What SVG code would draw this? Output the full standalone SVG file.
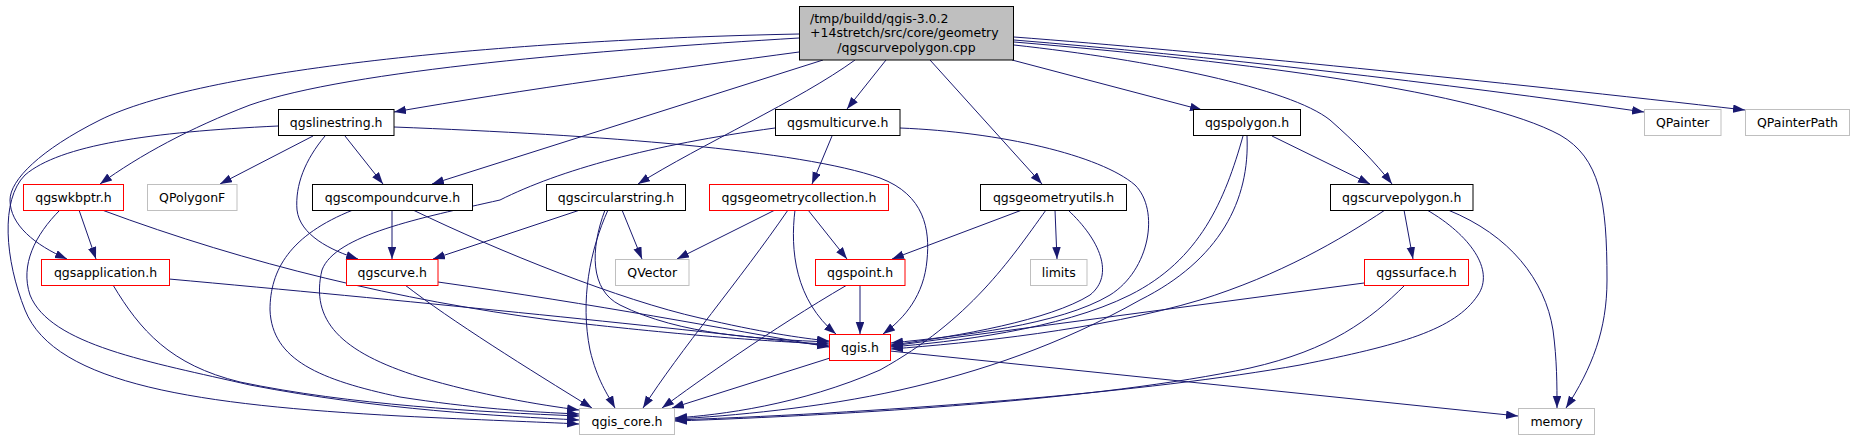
<svg xmlns="http://www.w3.org/2000/svg" width="1855" height="440" viewBox="0 0 1855 440">
<style>
rect{fill:#fff;stroke-width:1}
.k rect{stroke:#000}
.r rect{stroke:#ff0000}
.g rect{stroke:#bfbfbf}
.m rect{fill:#bfbfbf;stroke:#000}
text{font-family:"DejaVu Sans","Liberation Sans",sans-serif;font-size:12.5px;fill:#000;text-anchor:middle}
.e path{fill:none;stroke:#191970;stroke-width:1;marker-end:url(#a)}
</style>
<defs>
<marker id="a" markerUnits="userSpaceOnUse" markerWidth="12" markerHeight="9" refX="12" refY="4.25" orient="auto">
<path d="M0,0 L12,4.25 L0,8.5 z" fill="#191970"/>
</marker>
</defs>
<rect x="0" y="0" width="1855" height="440" style="fill:#fff;stroke:none"/>
<g class="e" id="edges">
<path d="M799,52 C680,68 520,90 394,112"/>
<path d="M886,60 L847,109"/>
<path d="M1012,60 L1202,110"/>
<path d="M1014,40 C1200,55 1450,84 1644,112"/>
<path d="M1014,37 C1200,51 1500,82 1745,110"/>
<path d="M1014,42 C1250,62 1480,92 1560,135 C1600,158 1607,200 1607,280 C1607,330 1592,368 1566,408"/>
<path d="M1014,45 C1150,60 1290,88 1330,120 C1355,142 1375,162 1392,184"/>
<path d="M930,60 L1042,184"/>
<path d="M855,60 C800,100 700,145 638,184"/>
<path d="M823,60 L432,184"/>
<path d="M799,38 C600,50 350,70 250,105 C190,128 140,155 100,184"/>
<path d="M799,34 C500,40 200,70 100,120 C40,150 10,180 10,200 C10,225 35,245 67,259"/>
<path d="M313,136 L220,184"/>
<path d="M345,136 L383,184"/>
<path d="M325,136 C305,160 295,185 297,210 C300,235 330,250 358,259"/>
<path d="M394,127 C600,135 800,150 880,178 C925,195 930,230 927,260 C924,295 905,318 883,334"/>
<path d="M278,126 C150,132 60,145 25,175 C0,200 5,260 25,310 C55,385 200,405 400,416 C480,420 540,422 579,424"/>
<path d="M79,210 L96,259"/>
<path d="M102,210 C250,265 400,300 550,320 C680,335 760,341 829,344"/>
<path d="M60,210 C35,235 20,265 30,295 C50,345 150,362 250,385 C380,410 500,416 579,420"/>
<path d="M169,279 C400,300 650,325 829,346"/>
<path d="M113,285 C140,330 170,365 240,382 C350,405 480,412 579,416"/>
<path d="M392,210 L392,259"/>
<path d="M413,210 C500,252 620,300 700,318 C760,332 800,338 829,341"/>
<path d="M353,210 C290,235 270,270 270,310 C272,360 320,380 400,397 C470,408 530,412 579,414"/>
<path d="M438,282 C600,305 720,328 829,347"/>
<path d="M405,285 C450,320 530,370 592,408"/>
<path d="M832,136 L812,184"/>
<path d="M900,128 C1000,132 1100,155 1135,185 C1160,210 1150,270 1110,295 C1060,325 960,336 891,343"/>
<path d="M775,128 C650,145 560,170 500,200 C420,218 335,235 322,270 C310,320 340,352 420,377 C480,395 540,405 579,410"/>
<path d="M580,210 L433,259"/>
<path d="M622,210 L642,259"/>
<path d="M605,210 C590,250 590,290 620,305 C680,335 760,339 829,342"/>
<path d="M608,210 C590,250 580,300 590,350 C597,380 608,395 615,408"/>
<path d="M775,210 L677,259"/>
<path d="M808,210 L847,259"/>
<path d="M795,210 C790,250 795,300 836,334"/>
<path d="M788,210 C740,280 680,350 643,408"/>
<path d="M860,285 L860,334"/>
<path d="M847,285 C770,330 700,380 662,408"/>
<path d="M830,358 L672,408"/>
<path d="M890,351 L1518,416"/>
<path d="M1022,210 L892,259"/>
<path d="M1055,210 L1057,259"/>
<path d="M1068,210 C1100,240 1115,275 1090,295 C1050,320 960,336 891,345"/>
<path d="M1046,210 C1010,260 970,320 880,370 C800,405 720,415 675,418"/>
<path d="M1272,136 L1370,184"/>
<path d="M1243,136 C1225,200 1200,260 1130,295 C1060,330 950,342 891,347"/>
<path d="M1247,136 C1250,200 1220,260 1140,300 C1060,345 980,372 900,390 C820,408 730,416 675,419"/>
<path d="M1404,210 L1413,259"/>
<path d="M1385,210 C1340,240 1280,275 1200,300 C1100,330 970,343 891,349"/>
<path d="M1427,210 C1470,235 1495,270 1478,295 C1455,330 1400,345 1300,365 C1150,392 900,412 675,420"/>
<path d="M1448,210 C1510,235 1545,280 1553,330 C1557,360 1557,385 1557,408"/>
<path d="M1364,283 L891,346"/>
<path d="M1405,285 C1370,320 1330,350 1250,368 C1100,400 850,415 675,421"/>
</g>
<g id="main" class="m"><rect x="799.5" y="6.5" width="214" height="53.5"/>
<text x="810" y="22.5" style="text-anchor:start">/tmp/buildd/qgis-3.0.2</text>
<text x="810" y="37" style="text-anchor:start">+14stretch/src/core/geometry</text>
<text x="906.5" y="51.5">/qgscurvepolygon.cpp</text></g>
<g id="n_qgslinestring" class="k"><rect x="278.5" y="109.5" width="115.5" height="26"/><text x="336.2" y="127">qgslinestring.h</text></g>
<g id="n_qgsmulticurve" class="k"><rect x="775.5" y="109.5" width="124.5" height="26"/><text x="837.7" y="127">qgsmulticurve.h</text></g>
<g id="n_qgspolygon" class="k"><rect x="1193.5" y="109.5" width="107" height="26"/><text x="1247" y="127">qgspolygon.h</text></g>
<g id="n_QPainter" class="g"><rect x="1644.5" y="109.5" width="76.5" height="26"/><text x="1682.7" y="127">QPainter</text></g>
<g id="n_QPainterPath" class="g"><rect x="1745.5" y="109.5" width="104" height="26"/><text x="1797.5" y="127">QPainterPath</text></g>
<g id="n_qgswkbptr" class="r"><rect x="23.5" y="184.5" width="100" height="26"/><text x="73.5" y="202">qgswkbptr.h</text></g>
<g id="n_QPolygonF" class="g"><rect x="147.5" y="184.5" width="89.5" height="26"/><text x="192.2" y="202">QPolygonF</text></g>
<g id="n_qgscompoundcurve" class="k"><rect x="312.5" y="184.5" width="160" height="26"/><text x="392.5" y="202">qgscompoundcurve.h</text></g>
<g id="n_qgscircularstring" class="k"><rect x="546.5" y="184.5" width="139" height="26"/><text x="616" y="202">qgscircularstring.h</text></g>
<g id="n_qgsgeometrycollection" class="r"><rect x="709.5" y="184.5" width="179" height="26"/><text x="799" y="202">qgsgeometrycollection.h</text></g>
<g id="n_qgsgeometryutils" class="k"><rect x="980.5" y="184.5" width="146" height="26"/><text x="1053.5" y="202">qgsgeometryutils.h</text></g>
<g id="n_qgscurvepolygon" class="k"><rect x="1330.5" y="184.5" width="142.5" height="26"/><text x="1401.7" y="202">qgscurvepolygon.h</text></g>
<g id="n_qgsapplication" class="r"><rect x="41.5" y="259.5" width="128" height="26"/><text x="105.5" y="277">qgsapplication.h</text></g>
<g id="n_qgscurve" class="r"><rect x="346.5" y="259.5" width="91.5" height="26"/><text x="392.2" y="277">qgscurve.h</text></g>
<g id="n_QVector" class="g"><rect x="615.5" y="259.5" width="73.5" height="26"/><text x="652.2" y="277">QVector</text></g>
<g id="n_qgspoint" class="r"><rect x="815.5" y="259.5" width="89.5" height="26"/><text x="860.2" y="277">qgspoint.h</text></g>
<g id="n_limits" class="g"><rect x="1030.5" y="259.5" width="56.5" height="26"/><text x="1058.7" y="277">limits</text></g>
<g id="n_qgssurface" class="r"><rect x="1364.5" y="259.5" width="104" height="26"/><text x="1416.5" y="277">qgssurface.h</text></g>
<g id="n_qgis" class="r"><rect x="829.5" y="334.5" width="61" height="26"/><text x="860" y="352">qgis.h</text></g>
<g id="n_qgis_core" class="g"><rect x="579.5" y="408.5" width="95" height="26"/><text x="627" y="426">qgis_core.h</text></g>
<g id="n_memory" class="g"><rect x="1518.5" y="408.5" width="76" height="26"/><text x="1556.5" y="426">memory</text></g>
</svg>
